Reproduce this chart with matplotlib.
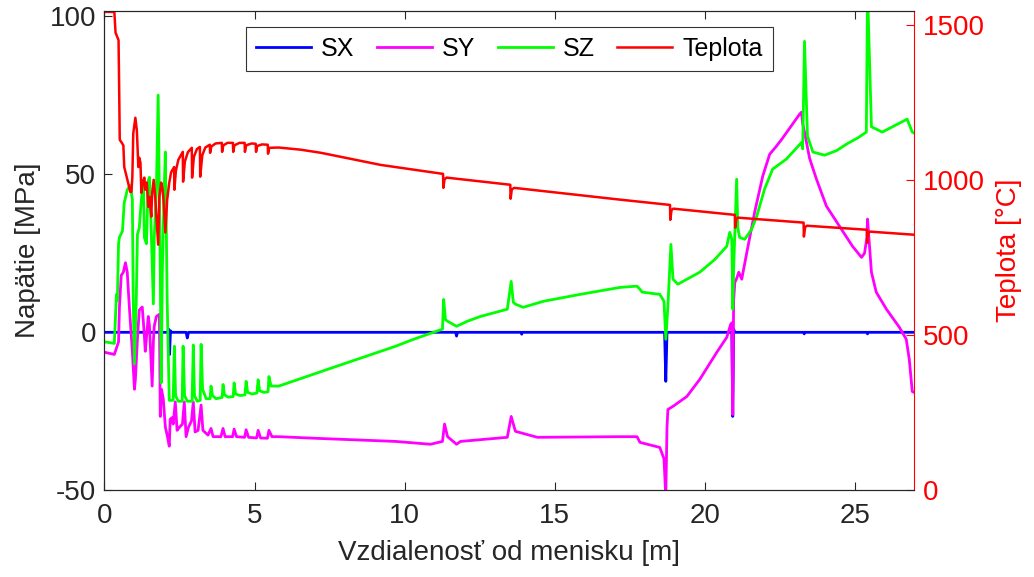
import matplotlib.pyplot as plt

plt.rcParams['font.family'] = ['Liberation Sans', 'DejaVu Sans']
plt.rcParams['axes.unicode_minus'] = False

# vzdialenost od menisku [m] a napatia [MPa]
sx_x = [0.00, 2.12, 2.14, 2.17, 2.20, 2.24, 2.72, 2.76, 2.80, 11.70, 11.73, 11.76,
        13.88, 13.90, 13.92, 18.66, 18.70, 18.74, 20.90, 20.93, 20.96, 21.00,
        23.29, 23.31, 23.33, 25.40, 25.42, 25.44, 26.97]
sx_y = [0.0, 0.0, 1.0, -7.0, 0.5, 0.0, 0.0, -1.8, 0.0, 0.0, -1.2, 0.0,
        0.0, -0.6, 0.0, 0.0, -15.5, 0.0, 0.0, -26.6, 1.0, 0.0,
        0.0, -0.5, 0.0, 0.0, -0.5, 0.0, 0.0]

sy_x = [0.00, 0.33, 0.40, 0.47, 0.50, 0.56, 0.63, 0.70, 0.76, 0.83, 0.93, 1.00, 1.03,
        1.10, 1.16, 1.26, 1.33, 1.36, 1.46, 1.50, 1.59, 1.63, 1.66, 1.73, 1.83, 1.86,
        1.90, 1.96, 2.03, 2.10, 2.16, 2.19, 2.25, 2.29, 2.36, 2.42, 2.50, 2.60, 2.66,
        2.72, 2.80, 2.90, 2.96, 3.02, 3.12, 3.22, 3.28, 3.45, 3.55, 3.62, 3.88, 3.95,
        4.02, 4.27, 4.32, 4.40, 4.67, 4.72, 4.80, 5.07, 5.12, 5.20, 5.43, 5.48, 5.58,
        5.81, 7.00, 9.70, 10.86, 11.26, 11.33, 11.43, 11.73, 11.86, 13.42, 13.55,
        13.69, 14.42, 17.18, 17.74, 17.84, 18.50, 18.64, 18.70, 18.74, 18.77, 18.94,
        19.40, 19.83, 20.40, 20.73, 20.86, 20.90, 20.93, 20.96, 21.00, 21.06, 21.13,
        21.23, 21.40, 21.66, 21.93, 22.16, 22.39, 22.56, 22.92, 23.16, 23.22, 23.26,
        23.32, 23.49, 23.72, 24.05, 24.49, 24.92, 25.22, 25.32, 25.40, 25.42, 25.45,
        25.55, 25.71, 26.05, 26.48, 26.71, 26.81, 26.91, 26.97]
sy_y = [-6.3, -7.0, -5.0, -3.0, 8.0, 18.0, 19.0, 22.0, 19.0, 8.0, -6.0, -18.0, -15.0,
        -2.0, 7.0, 8.0, -1.0, -6.0, 5.0, 2.0, -17.0, -3.0, 2.0, 5.0, 5.7, -26.6,
        -18.0, -21.0, -30.0, -33.0, -36.0, -27.5, -27.0, -29.0, -22.0, -31.0, -30.0, -29.0, -22.0,
        -33.0, -30.0, -28.0, -22.0, -31.5, -31.0, -23.0, -31.0, -32.5, -30.4, -33.0, -33.0, -30.4,
        -33.0, -33.0, -30.6, -33.0, -33.2, -30.8, -33.2, -33.4, -31.0, -33.4, -33.5, -31.0, -33.0,
        -33.0, -33.5, -34.5, -35.4, -34.5, -29.0, -33.0, -35.4, -34.5, -33.2, -26.6,
        -31.3, -33.2, -33.0, -33.0, -34.8, -36.4, -40.0, -52.0, -30.0, -24.4, -23.4,
        -20.3, -14.9, -6.3, -1.6, 2.5, 3.0, -26.0, 10.0, 15.8, 17.0, 19.0,
        16.8, 25.3, 38.0, 49.4, 56.3, 58.9, 61.0, 65.8, 69.0, 69.6, 66.0,
        63.3, 55.0, 48.4, 39.9, 33.5, 27.2, 23.7, 25.0, 30.0, 35.8, 32.0,
        19.0, 12.7, 7.3, 1.6, -2.2, -8.5, -18.7, -19.0]

sz_x = [0.00, 0.33, 0.40, 0.43, 0.47, 0.50, 0.60, 0.66, 0.76, 0.86, 0.93, 0.96, 1.00,
        1.06, 1.10, 1.16, 1.23, 1.30, 1.33, 1.40, 1.46, 1.50, 1.56, 1.63, 1.66, 1.73,
        1.79, 1.86, 1.89, 1.93, 1.99, 2.03, 2.09, 2.16, 2.29, 2.33, 2.37, 2.46, 2.59,
        2.62, 2.67, 2.76, 2.92, 2.96, 3.00, 3.09, 3.19, 3.22, 3.27, 3.39, 3.52, 3.55,
        3.60, 3.72, 3.92, 3.95, 4.00, 4.12, 4.29, 4.32, 4.37, 4.52, 4.68, 4.72, 4.77,
        4.92, 5.08, 5.12, 5.17, 5.32, 5.45, 5.48, 5.55, 5.81, 7.50, 9.70, 10.30, 11.26,
        11.30, 11.36, 11.43, 11.73, 12.09, 12.52, 13.42, 13.55, 13.62, 13.69, 13.95,
        14.62, 15.85, 17.18, 17.74, 17.84, 17.91, 18.50, 18.64, 18.70, 18.77, 18.87,
        18.94, 19.10, 19.83, 20.33, 20.73, 20.83, 20.90, 20.93, 20.96, 21.06, 21.10,
        21.16, 21.33, 21.56, 21.73, 21.99, 22.26, 22.72, 23.22, 23.26, 23.32, 23.42,
        23.60, 23.99, 24.40, 24.72, 25.10, 25.38, 25.42, 25.55, 25.91, 26.74, 26.91, 26.97]
sz_y = [-3.0, -3.5, 12.0, 10.0, 28.0, 30.0, 32.0, 41.0, 45.0, 46.5, 42.0, 10.0, -10.0,
        10.0, 31.0, 33.0, 42.0, 48.0, 30.0, 28.0, 48.0, 49.0, 32.0, 9.0, 30.0, 45.0,
        75.0, 20.0, -16.0, 20.0, 45.0, 57.0, 10.0, -21.5, -21.5, -4.4, -20.0, -21.8, -21.8,
        -4.4, -20.0, -21.8, -21.8, -4.0, -20.0, -21.8, -21.5, -3.8, -18.0, -21.0, -21.0, -17.0,
        -20.0, -21.0, -20.6, -16.5, -19.8, -20.5, -20.3, -16.0, -19.5, -20.0, -19.8, -15.5, -19.0,
        -19.5, -19.2, -15.0, -18.5, -19.0, -18.8, -14.0, -17.0, -17.0, -11.5, -4.4, -2.2, 1.0,
        10.4, 4.0, 3.5, 1.9, 3.5, 5.0, 7.3, 16.1, 9.5, 8.9, 7.9,
        9.8, 12.0, 14.2, 14.6, 13.6, 12.7, 12.0, 9.8, -2.2, 8.2, 27.8,
        16.8, 15.2, 19.0, 23.0, 27.2, 31.6, 29.4, 7.3, 20.0, 48.4, 33.0,
        30.0, 29.4, 32.6, 36.7, 45.3, 51.6, 54.8, 60.0, 58.0, 92.0, 62.0,
        57.0, 56.0, 57.5, 59.5, 61.5, 63.3, 108.0, 65.0, 63.3, 67.4, 63.3, 63.0]

# teplota [°C]
t_x = [0.00, 0.33, 0.37, 0.47, 0.49, 0.51, 0.58, 0.63, 0.66, 0.78, 0.86, 0.90, 0.93,
       0.96, 1.03, 1.08, 1.13, 1.16, 1.20, 1.23, 1.28, 1.33, 1.36, 1.41, 1.46, 1.51,
       1.56, 1.59, 1.64, 1.69, 1.72, 1.79, 1.83, 1.89, 1.93, 1.96, 2.03, 2.09, 2.16,
       2.22, 2.32, 2.33, 2.38, 2.46, 2.61, 2.62, 2.68, 2.78, 2.91, 2.92, 2.98, 3.08,
       3.18, 3.19, 3.26, 3.36, 3.51, 3.52, 3.56, 3.70, 3.91, 3.92, 3.96, 4.10, 4.28,
       4.29, 4.33, 4.50, 4.67, 4.68, 4.72, 4.90, 5.04, 5.05, 5.09, 5.25, 5.44, 5.45,
       5.49, 5.80, 6.54, 7.21, 9.20, 11.28, 11.29, 11.33, 11.40, 13.52, 13.53, 13.57,
       13.65, 17.18, 18.84, 18.85, 18.89, 18.95, 21.00, 21.01, 21.05, 21.10, 23.29,
       23.30, 23.34, 23.40, 25.40, 25.41, 25.45, 25.50, 26.97]
t_y = [1542, 1542, 1475, 1451, 1300, 1130, 1120, 1112, 1042, 995, 962, 962, 1010,
       1150, 1201, 1160, 1042, 1072, 1056, 959, 995, 1008, 969, 992, 914, 946,
       882, 959, 1001, 946, 900, 792, 946, 992, 975, 946, 831, 937, 992,
       1025, 1042, 969, 1030, 1065, 1091, 995, 1060, 1090, 1104, 1008, 1075, 1100,
       1107, 1011, 1080, 1105, 1114, 1088, 1108, 1118, 1120, 1091, 1112, 1120, 1120,
       1091, 1112, 1120, 1120, 1091, 1112, 1118, 1117, 1091, 1110, 1115, 1114, 1085,
       1104, 1105, 1098, 1088, 1049, 1020, 975, 1003, 1008, 985, 940, 970,
       975, 937, 920, 872, 903, 908, 888, 847, 874, 879, 863,
       818, 848, 853, 840, 798, 829, 834, 824]

gray = (0.15, 0.15, 0.15)

fig = plt.figure(figsize=(10.34, 5.77), dpi=100)
ax = fig.add_axes([0.101, 0.150, 0.783, 0.831])
ax2 = ax.twinx()

l1, = ax.plot(sx_x, sx_y, color='#0000ff', lw=2, label='SX')
l2, = ax.plot(sy_x, sy_y, color='#ff00ff', lw=2, label='SY')
l3, = ax.plot(sz_x, sz_y, color='#00ff00', lw=2, label='SZ')
l4, = ax2.plot(t_x, t_y, color='#ff0000', lw=1.8, label='Teplota')

ax.set_xlim(0, 26.97)
ax.set_ylim(-50, 101.6)
ax2.set_ylim(0, 1545)
ax.set_xticks([0, 5, 10, 15, 20, 25])
ax.set_yticks([-50, 0, 50, 100])
ax2.set_yticks([0, 500, 1000, 1500])

fs = 20
ax.tick_params(axis='both', direction='in', length=6, labelsize=fs, colors=gray,
               labelcolor=gray, top=True, width=0.8, pad=6)
ax.tick_params(axis='x', pad=9)
ax2.tick_params(axis='y', direction='in', length=6, labelsize=fs, colors='red', width=0.8, pad=6)
for s in ['left', 'top', 'bottom']:
    ax.spines[s].set_color(gray)
    ax2.spines[s].set_color(gray)
ax2.spines['right'].set_color('red')
ax.spines['right'].set_visible(False)

ax.set_xlabel('Vzdialenosť od menisku [m]', fontsize=fs, color=gray, labelpad=8)
ax.set_ylabel('Napätie [MPa]', fontsize=fs, color=gray, labelpad=6)
ax2.set_ylabel('Teplota [°C]', fontsize=fs, color='red', labelpad=8)

leg = ax2.legend(handles=[l1, l2, l3, l4], loc='upper center', bbox_to_anchor=(0.5, 0.967),
                 ncol=4, fontsize=18, frameon=True, fancybox=False, handlelength=2.2,
                 columnspacing=0.9, handletextpad=0.4, borderpad=0.4, borderaxespad=0)
leg.get_frame().set_edgecolor('black')
leg.get_frame().set_linewidth(0.8)

fig.savefig('out.png', dpi=100)
